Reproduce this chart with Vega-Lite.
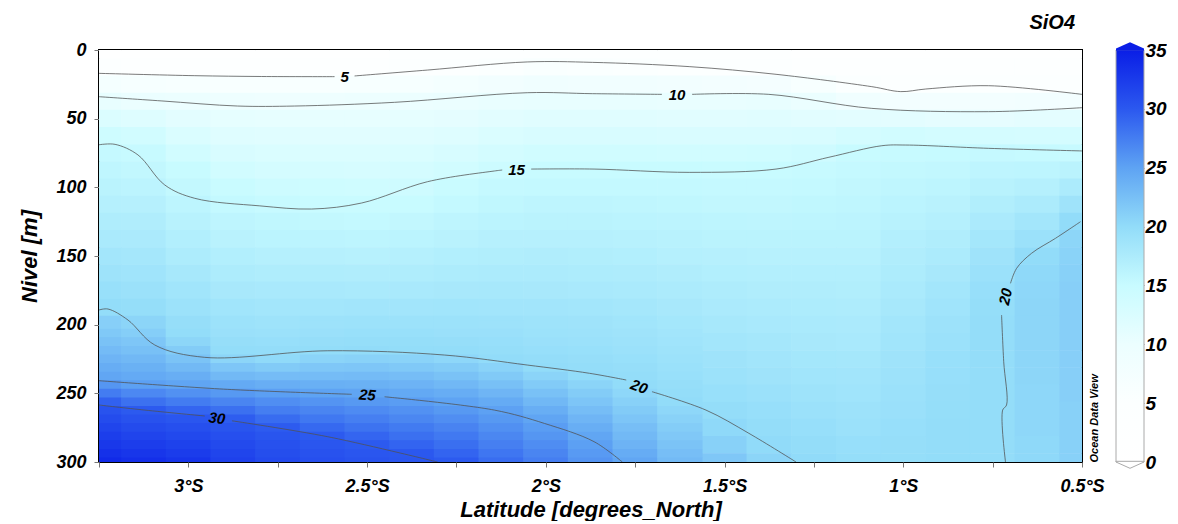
{
"$schema": "https://vega.github.io/schema/vega-lite/v6.json",
"padding": {"left": 17, "top": 12, "right": 0, "bottom": 0},
"bounds": "flush",
"spacing": 34,
"config": {
  "font": "Liberation Sans",
  "view": {"stroke": null},
  "axis": {"labelFont": "Liberation Sans", "labelFontWeight": "bold", "labelFontStyle": "italic", "labelFontSize": 18, "labelColor": "#000", "titleFont": "Liberation Sans", "titleFontWeight": "bold", "titleFontStyle": "italic", "titleFontSize": 22, "titleColor": "#000", "domain": false, "grid": false, "tickColor": "#777", "labelFlush": false, "labelOverlap": false}
},
"datasets": {
"grid": [
{"lat":-3.25,"depth":0,"v":2.0},{"lat":-3.25,"depth":12.5,"v":4.2},{"lat":-3.25,"depth":25,"v":7.4},{"lat":-3.25,"depth":37.5,"v":10.5},{"lat":-3.25,"depth":50,"v":12.3},{"lat":-3.25,"depth":62.5,"v":14.1},{"lat":-3.25,"depth":75,"v":15.3},{"lat":-3.25,"depth":87.5,"v":15.8},{"lat":-3.25,"depth":100,"v":16.3},{"lat":-3.25,"depth":112.5,"v":16.8},{"lat":-3.25,"depth":125,"v":17.3},{"lat":-3.25,"depth":137.5,"v":17.8},{"lat":-3.25,"depth":150,"v":18.4},{"lat":-3.25,"depth":162.5,"v":18.9},{"lat":-3.25,"depth":175,"v":19.4},{"lat":-3.25,"depth":187.5,"v":19.9},{"lat":-3.25,"depth":200,"v":21.1},{"lat":-3.25,"depth":212.5,"v":22.3},{"lat":-3.25,"depth":225,"v":23.5},{"lat":-3.25,"depth":237.5,"v":24.7},{"lat":-3.25,"depth":250,"v":27.6},{"lat":-3.25,"depth":262.5,"v":30.4},{"lat":-3.25,"depth":275,"v":31.6},{"lat":-3.25,"depth":287.5,"v":32.8},{"lat":-3.25,"depth":300,"v":34.0},
{"lat":-3.125,"depth":0,"v":2.0},{"lat":-3.125,"depth":12.5,"v":4.1},{"lat":-3.125,"depth":25,"v":6.9},{"lat":-3.125,"depth":37.5,"v":10.2},{"lat":-3.125,"depth":50,"v":11.9},{"lat":-3.125,"depth":62.5,"v":13.7},{"lat":-3.125,"depth":75,"v":15.1},{"lat":-3.125,"depth":87.5,"v":15.6},{"lat":-3.125,"depth":100,"v":16.1},{"lat":-3.125,"depth":112.5,"v":16.7},{"lat":-3.125,"depth":125,"v":17.2},{"lat":-3.125,"depth":137.5,"v":17.7},{"lat":-3.125,"depth":150,"v":18.2},{"lat":-3.125,"depth":162.5,"v":18.7},{"lat":-3.125,"depth":175,"v":19.2},{"lat":-3.125,"depth":187.5,"v":19.7},{"lat":-3.125,"depth":200,"v":20.6},{"lat":-3.125,"depth":212.5,"v":21.9},{"lat":-3.125,"depth":225,"v":23.2},{"lat":-3.125,"depth":237.5,"v":24.4},{"lat":-3.125,"depth":250,"v":26.8},{"lat":-3.125,"depth":262.5,"v":29.9},{"lat":-3.125,"depth":275,"v":31.1},{"lat":-3.125,"depth":287.5,"v":32.3},{"lat":-3.125,"depth":300,"v":33.5},
{"lat":-3.0,"depth":0,"v":2.0},{"lat":-3.0,"depth":12.5,"v":4.0},{"lat":-3.0,"depth":25,"v":6.7},{"lat":-3.0,"depth":37.5,"v":9.9},{"lat":-3.0,"depth":50,"v":11.2},{"lat":-3.0,"depth":62.5,"v":12.5},{"lat":-3.0,"depth":75,"v":13.7},{"lat":-3.0,"depth":87.5,"v":15.0},{"lat":-3.0,"depth":100,"v":15.5},{"lat":-3.0,"depth":112.5,"v":16.0},{"lat":-3.0,"depth":125,"v":16.5},{"lat":-3.0,"depth":137.5,"v":17.0},{"lat":-3.0,"depth":150,"v":17.5},{"lat":-3.0,"depth":162.5,"v":18.1},{"lat":-3.0,"depth":175,"v":18.6},{"lat":-3.0,"depth":187.5,"v":19.1},{"lat":-3.0,"depth":200,"v":19.6},{"lat":-3.0,"depth":212.5,"v":20.5},{"lat":-3.0,"depth":225,"v":22.2},{"lat":-3.0,"depth":237.5,"v":24.0},{"lat":-3.0,"depth":250,"v":26.2},{"lat":-3.0,"depth":262.5,"v":29.1},{"lat":-3.0,"depth":275,"v":30.8},{"lat":-3.0,"depth":287.5,"v":31.9},{"lat":-3.0,"depth":300,"v":33.0},
{"lat":-2.875,"depth":0,"v":2.2},{"lat":-2.875,"depth":12.5,"v":4.0},{"lat":-2.875,"depth":25,"v":6.4},{"lat":-2.875,"depth":37.5,"v":9.3},{"lat":-2.875,"depth":50,"v":10.8},{"lat":-2.875,"depth":62.5,"v":11.8},{"lat":-2.875,"depth":75,"v":12.8},{"lat":-2.875,"depth":87.5,"v":13.8},{"lat":-2.875,"depth":100,"v":14.8},{"lat":-2.875,"depth":112.5,"v":15.4},{"lat":-2.875,"depth":125,"v":15.9},{"lat":-2.875,"depth":137.5,"v":16.4},{"lat":-2.875,"depth":150,"v":17.0},{"lat":-2.875,"depth":162.5,"v":17.5},{"lat":-2.875,"depth":175,"v":18.0},{"lat":-2.875,"depth":187.5,"v":18.6},{"lat":-2.875,"depth":200,"v":19.1},{"lat":-2.875,"depth":212.5,"v":19.6},{"lat":-2.875,"depth":225,"v":20.6},{"lat":-2.875,"depth":237.5,"v":23.1},{"lat":-2.875,"depth":250,"v":25.7},{"lat":-2.875,"depth":262.5,"v":28.4},{"lat":-2.875,"depth":275,"v":30.3},{"lat":-2.875,"depth":287.5,"v":31.2},{"lat":-2.875,"depth":300,"v":32.0},
{"lat":-2.75,"depth":0,"v":2.3},{"lat":-2.75,"depth":12.5,"v":4.0},{"lat":-2.75,"depth":25,"v":6.3},{"lat":-2.75,"depth":37.5,"v":9.2},{"lat":-2.75,"depth":50,"v":10.7},{"lat":-2.75,"depth":62.5,"v":11.6},{"lat":-2.75,"depth":75,"v":12.5},{"lat":-2.75,"depth":87.5,"v":13.4},{"lat":-2.75,"depth":100,"v":14.3},{"lat":-2.75,"depth":112.5,"v":15.1},{"lat":-2.75,"depth":125,"v":15.7},{"lat":-2.75,"depth":137.5,"v":16.2},{"lat":-2.75,"depth":150,"v":16.8},{"lat":-2.75,"depth":162.5,"v":17.3},{"lat":-2.75,"depth":175,"v":17.9},{"lat":-2.75,"depth":187.5,"v":18.4},{"lat":-2.75,"depth":200,"v":18.9},{"lat":-2.75,"depth":212.5,"v":19.5},{"lat":-2.75,"depth":225,"v":20.2},{"lat":-2.75,"depth":237.5,"v":22.8},{"lat":-2.75,"depth":250,"v":25.3},{"lat":-2.75,"depth":262.5,"v":27.5},{"lat":-2.75,"depth":275,"v":29.8},{"lat":-2.75,"depth":287.5,"v":30.6},{"lat":-2.75,"depth":300,"v":31.2},
{"lat":-2.625,"depth":0,"v":2.4},{"lat":-2.625,"depth":12.5,"v":4.1},{"lat":-2.625,"depth":25,"v":6.4},{"lat":-2.625,"depth":37.5,"v":9.4},{"lat":-2.625,"depth":50,"v":10.7},{"lat":-2.625,"depth":62.5,"v":11.5},{"lat":-2.625,"depth":75,"v":12.4},{"lat":-2.625,"depth":87.5,"v":13.2},{"lat":-2.625,"depth":100,"v":14.1},{"lat":-2.625,"depth":112.5,"v":14.9},{"lat":-2.625,"depth":125,"v":15.5},{"lat":-2.625,"depth":137.5,"v":16.1},{"lat":-2.625,"depth":150,"v":16.7},{"lat":-2.625,"depth":162.5,"v":17.3},{"lat":-2.625,"depth":175,"v":17.9},{"lat":-2.625,"depth":187.5,"v":18.4},{"lat":-2.625,"depth":200,"v":19.0},{"lat":-2.625,"depth":212.5,"v":19.6},{"lat":-2.625,"depth":225,"v":20.7},{"lat":-2.625,"depth":237.5,"v":22.8},{"lat":-2.625,"depth":250,"v":25.0},{"lat":-2.625,"depth":262.5,"v":27.0},{"lat":-2.625,"depth":275,"v":28.9},{"lat":-2.625,"depth":287.5,"v":30.2},{"lat":-2.625,"depth":300,"v":30.8},
{"lat":-2.5,"depth":0,"v":2.5},{"lat":-2.5,"depth":12.5,"v":4.1},{"lat":-2.5,"depth":25,"v":6.5},{"lat":-2.5,"depth":37.5,"v":9.6},{"lat":-2.5,"depth":50,"v":10.7},{"lat":-2.5,"depth":62.5,"v":11.5},{"lat":-2.5,"depth":75,"v":12.3},{"lat":-2.5,"depth":87.5,"v":13.1},{"lat":-2.5,"depth":100,"v":14.0},{"lat":-2.5,"depth":112.5,"v":14.8},{"lat":-2.5,"depth":125,"v":15.4},{"lat":-2.5,"depth":137.5,"v":16.0},{"lat":-2.5,"depth":150,"v":16.6},{"lat":-2.5,"depth":162.5,"v":17.2},{"lat":-2.5,"depth":175,"v":17.8},{"lat":-2.5,"depth":187.5,"v":18.5},{"lat":-2.5,"depth":200,"v":19.1},{"lat":-2.5,"depth":212.5,"v":19.7},{"lat":-2.5,"depth":225,"v":20.9},{"lat":-2.5,"depth":237.5,"v":22.9},{"lat":-2.5,"depth":250,"v":24.8},{"lat":-2.5,"depth":262.5,"v":26.6},{"lat":-2.5,"depth":275,"v":28.2},{"lat":-2.5,"depth":287.5,"v":29.9},{"lat":-2.5,"depth":300,"v":30.4},
{"lat":-2.375,"depth":0,"v":2.7},{"lat":-2.375,"depth":12.5,"v":4.4},{"lat":-2.375,"depth":25,"v":6.9},{"lat":-2.375,"depth":37.5,"v":9.9},{"lat":-2.375,"depth":50,"v":10.8},{"lat":-2.375,"depth":62.5,"v":11.7},{"lat":-2.375,"depth":75,"v":12.5},{"lat":-2.375,"depth":87.5,"v":13.3},{"lat":-2.375,"depth":100,"v":14.2},{"lat":-2.375,"depth":112.5,"v":15.0},{"lat":-2.375,"depth":125,"v":15.6},{"lat":-2.375,"depth":137.5,"v":16.2},{"lat":-2.375,"depth":150,"v":16.8},{"lat":-2.375,"depth":162.5,"v":17.3},{"lat":-2.375,"depth":175,"v":17.9},{"lat":-2.375,"depth":187.5,"v":18.5},{"lat":-2.375,"depth":200,"v":19.1},{"lat":-2.375,"depth":212.5,"v":19.7},{"lat":-2.375,"depth":225,"v":20.8},{"lat":-2.375,"depth":237.5,"v":22.7},{"lat":-2.375,"depth":250,"v":24.5},{"lat":-2.375,"depth":262.5,"v":26.2},{"lat":-2.375,"depth":275,"v":27.7},{"lat":-2.375,"depth":287.5,"v":29.2},{"lat":-2.375,"depth":300,"v":30.2},
{"lat":-2.25,"depth":0,"v":3.0},{"lat":-2.25,"depth":12.5,"v":4.8},{"lat":-2.25,"depth":25,"v":7.5},{"lat":-2.25,"depth":37.5,"v":10.1},{"lat":-2.25,"depth":50,"v":11.0},{"lat":-2.25,"depth":62.5,"v":12.0},{"lat":-2.25,"depth":75,"v":12.9},{"lat":-2.25,"depth":87.5,"v":13.8},{"lat":-2.25,"depth":100,"v":14.8},{"lat":-2.25,"depth":112.5,"v":15.4},{"lat":-2.25,"depth":125,"v":15.9},{"lat":-2.25,"depth":137.5,"v":16.4},{"lat":-2.25,"depth":150,"v":17.0},{"lat":-2.25,"depth":162.5,"v":17.5},{"lat":-2.25,"depth":175,"v":18.0},{"lat":-2.25,"depth":187.5,"v":18.6},{"lat":-2.25,"depth":200,"v":19.1},{"lat":-2.25,"depth":212.5,"v":19.6},{"lat":-2.25,"depth":225,"v":20.4},{"lat":-2.25,"depth":237.5,"v":22.3},{"lat":-2.25,"depth":250,"v":24.1},{"lat":-2.25,"depth":262.5,"v":25.7},{"lat":-2.25,"depth":275,"v":27.1},{"lat":-2.25,"depth":287.5,"v":28.5},{"lat":-2.25,"depth":300,"v":29.9},
{"lat":-2.125,"depth":0,"v":3.3},{"lat":-2.125,"depth":12.5,"v":5.3},{"lat":-2.125,"depth":25,"v":8.2},{"lat":-2.125,"depth":37.5,"v":10.4},{"lat":-2.125,"depth":50,"v":11.4},{"lat":-2.125,"depth":62.5,"v":12.5},{"lat":-2.125,"depth":75,"v":13.5},{"lat":-2.125,"depth":87.5,"v":14.5},{"lat":-2.125,"depth":100,"v":15.3},{"lat":-2.125,"depth":112.5,"v":15.7},{"lat":-2.125,"depth":125,"v":16.2},{"lat":-2.125,"depth":137.5,"v":16.7},{"lat":-2.125,"depth":150,"v":17.1},{"lat":-2.125,"depth":162.5,"v":17.6},{"lat":-2.125,"depth":175,"v":18.1},{"lat":-2.125,"depth":187.5,"v":18.5},{"lat":-2.125,"depth":200,"v":19.0},{"lat":-2.125,"depth":212.5,"v":19.5},{"lat":-2.125,"depth":225,"v":20.0},{"lat":-2.125,"depth":237.5,"v":21.6},{"lat":-2.125,"depth":250,"v":23.4},{"lat":-2.125,"depth":262.5,"v":25.1},{"lat":-2.125,"depth":275,"v":26.3},{"lat":-2.125,"depth":287.5,"v":27.4},{"lat":-2.125,"depth":300,"v":28.6},
{"lat":-2.0,"depth":0,"v":3.5},{"lat":-2.0,"depth":12.5,"v":5.8},{"lat":-2.0,"depth":25,"v":8.6},{"lat":-2.0,"depth":37.5,"v":10.6},{"lat":-2.0,"depth":50,"v":11.7},{"lat":-2.0,"depth":62.5,"v":12.8},{"lat":-2.0,"depth":75,"v":13.9},{"lat":-2.0,"depth":87.5,"v":15.0},{"lat":-2.0,"depth":100,"v":15.4},{"lat":-2.0,"depth":112.5,"v":15.9},{"lat":-2.0,"depth":125,"v":16.3},{"lat":-2.0,"depth":137.5,"v":16.7},{"lat":-2.0,"depth":150,"v":17.2},{"lat":-2.0,"depth":162.5,"v":17.6},{"lat":-2.0,"depth":175,"v":18.0},{"lat":-2.0,"depth":187.5,"v":18.5},{"lat":-2.0,"depth":200,"v":18.9},{"lat":-2.0,"depth":212.5,"v":19.3},{"lat":-2.0,"depth":225,"v":19.8},{"lat":-2.0,"depth":237.5,"v":20.7},{"lat":-2.0,"depth":250,"v":22.4},{"lat":-2.0,"depth":262.5,"v":24.0},{"lat":-2.0,"depth":275,"v":25.4},{"lat":-2.0,"depth":287.5,"v":26.5},{"lat":-2.0,"depth":300,"v":27.5},
{"lat":-1.875,"depth":0,"v":3.4},{"lat":-1.875,"depth":12.5,"v":5.7},{"lat":-1.875,"depth":25,"v":8.4},{"lat":-1.875,"depth":37.5,"v":10.5},{"lat":-1.875,"depth":50,"v":11.6},{"lat":-1.875,"depth":62.5,"v":12.8},{"lat":-1.875,"depth":75,"v":13.9},{"lat":-1.875,"depth":87.5,"v":15.0},{"lat":-1.875,"depth":100,"v":15.4},{"lat":-1.875,"depth":112.5,"v":15.9},{"lat":-1.875,"depth":125,"v":16.3},{"lat":-1.875,"depth":137.5,"v":16.7},{"lat":-1.875,"depth":150,"v":17.1},{"lat":-1.875,"depth":162.5,"v":17.5},{"lat":-1.875,"depth":175,"v":17.9},{"lat":-1.875,"depth":187.5,"v":18.4},{"lat":-1.875,"depth":200,"v":18.8},{"lat":-1.875,"depth":212.5,"v":19.2},{"lat":-1.875,"depth":225,"v":19.6},{"lat":-1.875,"depth":237.5,"v":20.0},{"lat":-1.875,"depth":250,"v":21.4},{"lat":-1.875,"depth":262.5,"v":22.7},{"lat":-1.875,"depth":275,"v":24.0},{"lat":-1.875,"depth":287.5,"v":25.2},{"lat":-1.875,"depth":300,"v":26.0},
{"lat":-1.75,"depth":0,"v":3.2},{"lat":-1.75,"depth":12.5,"v":5.3},{"lat":-1.75,"depth":25,"v":8.3},{"lat":-1.75,"depth":37.5,"v":10.5},{"lat":-1.75,"depth":50,"v":11.6},{"lat":-1.75,"depth":62.5,"v":12.8},{"lat":-1.75,"depth":75,"v":13.9},{"lat":-1.75,"depth":87.5,"v":15.0},{"lat":-1.75,"depth":100,"v":15.4},{"lat":-1.75,"depth":112.5,"v":15.8},{"lat":-1.75,"depth":125,"v":16.2},{"lat":-1.75,"depth":137.5,"v":16.6},{"lat":-1.75,"depth":150,"v":17.0},{"lat":-1.75,"depth":162.5,"v":17.4},{"lat":-1.75,"depth":175,"v":17.8},{"lat":-1.75,"depth":187.5,"v":18.2},{"lat":-1.75,"depth":200,"v":18.6},{"lat":-1.75,"depth":212.5,"v":19.0},{"lat":-1.75,"depth":225,"v":19.4},{"lat":-1.75,"depth":237.5,"v":19.8},{"lat":-1.75,"depth":250,"v":20.4},{"lat":-1.75,"depth":262.5,"v":21.5},{"lat":-1.75,"depth":275,"v":22.6},{"lat":-1.75,"depth":287.5,"v":23.6},{"lat":-1.75,"depth":300,"v":24.7},
{"lat":-1.625,"depth":0,"v":3.0},{"lat":-1.625,"depth":12.5,"v":4.9},{"lat":-1.625,"depth":25,"v":8.0},{"lat":-1.625,"depth":37.5,"v":10.4},{"lat":-1.625,"depth":50,"v":11.5},{"lat":-1.625,"depth":62.5,"v":12.7},{"lat":-1.625,"depth":75,"v":13.8},{"lat":-1.625,"depth":87.5,"v":15.0},{"lat":-1.625,"depth":100,"v":15.4},{"lat":-1.625,"depth":112.5,"v":15.7},{"lat":-1.625,"depth":125,"v":16.1},{"lat":-1.625,"depth":137.5,"v":16.5},{"lat":-1.625,"depth":150,"v":16.8},{"lat":-1.625,"depth":162.5,"v":17.2},{"lat":-1.625,"depth":175,"v":17.6},{"lat":-1.625,"depth":187.5,"v":18.0},{"lat":-1.625,"depth":200,"v":18.3},{"lat":-1.625,"depth":212.5,"v":18.7},{"lat":-1.625,"depth":225,"v":19.1},{"lat":-1.625,"depth":237.5,"v":19.4},{"lat":-1.625,"depth":250,"v":19.8},{"lat":-1.625,"depth":262.5,"v":20.4},{"lat":-1.625,"depth":275,"v":21.3},{"lat":-1.625,"depth":287.5,"v":22.2},{"lat":-1.625,"depth":300,"v":23.0},
{"lat":-1.5,"depth":0,"v":2.8},{"lat":-1.5,"depth":12.5,"v":4.6},{"lat":-1.5,"depth":25,"v":7.9},{"lat":-1.5,"depth":37.5,"v":10.4},{"lat":-1.5,"depth":50,"v":11.5},{"lat":-1.5,"depth":62.5,"v":12.7},{"lat":-1.5,"depth":75,"v":13.8},{"lat":-1.5,"depth":87.5,"v":14.9},{"lat":-1.5,"depth":100,"v":15.3},{"lat":-1.5,"depth":112.5,"v":15.6},{"lat":-1.5,"depth":125,"v":16.0},{"lat":-1.5,"depth":137.5,"v":16.3},{"lat":-1.5,"depth":150,"v":16.7},{"lat":-1.5,"depth":162.5,"v":17.0},{"lat":-1.5,"depth":175,"v":17.4},{"lat":-1.5,"depth":187.5,"v":17.7},{"lat":-1.5,"depth":200,"v":18.1},{"lat":-1.5,"depth":212.5,"v":18.4},{"lat":-1.5,"depth":225,"v":18.8},{"lat":-1.5,"depth":237.5,"v":19.1},{"lat":-1.5,"depth":250,"v":19.4},{"lat":-1.5,"depth":262.5,"v":19.8},{"lat":-1.5,"depth":275,"v":20.3},{"lat":-1.5,"depth":287.5,"v":21.0},{"lat":-1.5,"depth":300,"v":21.8},
{"lat":-1.375,"depth":0,"v":2.6},{"lat":-1.375,"depth":12.5,"v":4.4},{"lat":-1.375,"depth":25,"v":7.6},{"lat":-1.375,"depth":37.5,"v":10.5},{"lat":-1.375,"depth":50,"v":11.6},{"lat":-1.375,"depth":62.5,"v":12.7},{"lat":-1.375,"depth":75,"v":13.9},{"lat":-1.375,"depth":87.5,"v":15.0},{"lat":-1.375,"depth":100,"v":15.3},{"lat":-1.375,"depth":112.5,"v":15.6},{"lat":-1.375,"depth":125,"v":15.9},{"lat":-1.375,"depth":137.5,"v":16.3},{"lat":-1.375,"depth":150,"v":16.6},{"lat":-1.375,"depth":162.5,"v":16.9},{"lat":-1.375,"depth":175,"v":17.2},{"lat":-1.375,"depth":187.5,"v":17.6},{"lat":-1.375,"depth":200,"v":17.9},{"lat":-1.375,"depth":212.5,"v":18.2},{"lat":-1.375,"depth":225,"v":18.5},{"lat":-1.375,"depth":237.5,"v":18.8},{"lat":-1.375,"depth":250,"v":19.2},{"lat":-1.375,"depth":262.5,"v":19.5},{"lat":-1.375,"depth":275,"v":19.8},{"lat":-1.375,"depth":287.5,"v":20.1},{"lat":-1.375,"depth":300,"v":20.6},
{"lat":-1.25,"depth":0,"v":2.4},{"lat":-1.25,"depth":12.5,"v":4.0},{"lat":-1.25,"depth":25,"v":6.5},{"lat":-1.25,"depth":37.5,"v":10.1},{"lat":-1.25,"depth":50,"v":11.4},{"lat":-1.25,"depth":62.5,"v":12.8},{"lat":-1.25,"depth":75,"v":14.2},{"lat":-1.25,"depth":87.5,"v":15.1},{"lat":-1.25,"depth":100,"v":15.4},{"lat":-1.25,"depth":112.5,"v":15.7},{"lat":-1.25,"depth":125,"v":16.0},{"lat":-1.25,"depth":137.5,"v":16.3},{"lat":-1.25,"depth":150,"v":16.6},{"lat":-1.25,"depth":162.5,"v":16.9},{"lat":-1.25,"depth":175,"v":17.2},{"lat":-1.25,"depth":187.5,"v":17.5},{"lat":-1.25,"depth":200,"v":17.8},{"lat":-1.25,"depth":212.5,"v":18.0},{"lat":-1.25,"depth":225,"v":18.3},{"lat":-1.25,"depth":237.5,"v":18.6},{"lat":-1.25,"depth":250,"v":18.9},{"lat":-1.25,"depth":262.5,"v":19.2},{"lat":-1.25,"depth":275,"v":19.5},{"lat":-1.25,"depth":287.5,"v":19.8},{"lat":-1.25,"depth":300,"v":20.1},
{"lat":-1.125,"depth":0,"v":2.2},{"lat":-1.125,"depth":12.5,"v":3.7},{"lat":-1.125,"depth":25,"v":5.3},{"lat":-1.125,"depth":37.5,"v":8.8},{"lat":-1.125,"depth":50,"v":11.3},{"lat":-1.125,"depth":62.5,"v":13.3},{"lat":-1.125,"depth":75,"v":15.0},{"lat":-1.125,"depth":87.5,"v":15.3},{"lat":-1.125,"depth":100,"v":15.6},{"lat":-1.125,"depth":112.5,"v":15.8},{"lat":-1.125,"depth":125,"v":16.1},{"lat":-1.125,"depth":137.5,"v":16.3},{"lat":-1.125,"depth":150,"v":16.6},{"lat":-1.125,"depth":162.5,"v":16.9},{"lat":-1.125,"depth":175,"v":17.1},{"lat":-1.125,"depth":187.5,"v":17.4},{"lat":-1.125,"depth":200,"v":17.7},{"lat":-1.125,"depth":212.5,"v":17.9},{"lat":-1.125,"depth":225,"v":18.2},{"lat":-1.125,"depth":237.5,"v":18.5},{"lat":-1.125,"depth":250,"v":18.7},{"lat":-1.125,"depth":262.5,"v":19.0},{"lat":-1.125,"depth":275,"v":19.2},{"lat":-1.125,"depth":287.5,"v":19.5},{"lat":-1.125,"depth":300,"v":19.7},
{"lat":-1.0,"depth":0,"v":1.8},{"lat":-1.0,"depth":12.5,"v":3.1},{"lat":-1.0,"depth":25,"v":4.5},{"lat":-1.0,"depth":37.5,"v":7.7},{"lat":-1.0,"depth":50,"v":11.2},{"lat":-1.0,"depth":62.5,"v":13.7},{"lat":-1.0,"depth":75,"v":15.1},{"lat":-1.0,"depth":87.5,"v":15.5},{"lat":-1.0,"depth":100,"v":15.8},{"lat":-1.0,"depth":112.5,"v":16.2},{"lat":-1.0,"depth":125,"v":16.5},{"lat":-1.0,"depth":137.5,"v":16.9},{"lat":-1.0,"depth":150,"v":17.2},{"lat":-1.0,"depth":162.5,"v":17.5},{"lat":-1.0,"depth":175,"v":17.8},{"lat":-1.0,"depth":187.5,"v":18.1},{"lat":-1.0,"depth":200,"v":18.4},{"lat":-1.0,"depth":212.5,"v":18.6},{"lat":-1.0,"depth":225,"v":18.8},{"lat":-1.0,"depth":237.5,"v":19.0},{"lat":-1.0,"depth":250,"v":19.2},{"lat":-1.0,"depth":262.5,"v":19.3},{"lat":-1.0,"depth":275,"v":19.5},{"lat":-1.0,"depth":287.5,"v":19.6},{"lat":-1.0,"depth":300,"v":19.7},
{"lat":-0.875,"depth":0,"v":1.6},{"lat":-0.875,"depth":12.5,"v":3.1},{"lat":-0.875,"depth":25,"v":4.6},{"lat":-0.875,"depth":37.5,"v":7.7},{"lat":-0.875,"depth":50,"v":11.0},{"lat":-0.875,"depth":62.5,"v":13.5},{"lat":-0.875,"depth":75,"v":15.2},{"lat":-0.875,"depth":87.5,"v":15.6},{"lat":-0.875,"depth":100,"v":16.0},{"lat":-0.875,"depth":112.5,"v":16.4},{"lat":-0.875,"depth":125,"v":16.8},{"lat":-0.875,"depth":137.5,"v":17.2},{"lat":-0.875,"depth":150,"v":17.6},{"lat":-0.875,"depth":162.5,"v":18.0},{"lat":-0.875,"depth":175,"v":18.4},{"lat":-0.875,"depth":187.5,"v":18.7},{"lat":-0.875,"depth":200,"v":19.0},{"lat":-0.875,"depth":212.5,"v":19.2},{"lat":-0.875,"depth":225,"v":19.4},{"lat":-0.875,"depth":237.5,"v":19.5},{"lat":-0.875,"depth":250,"v":19.6},{"lat":-0.875,"depth":262.5,"v":19.7},{"lat":-0.875,"depth":275,"v":19.8},{"lat":-0.875,"depth":287.5,"v":19.8},{"lat":-0.875,"depth":300,"v":19.9},
{"lat":-0.75,"depth":0,"v":1.7},{"lat":-0.75,"depth":12.5,"v":3.2},{"lat":-0.75,"depth":25,"v":4.6},{"lat":-0.75,"depth":37.5,"v":7.9},{"lat":-0.75,"depth":50,"v":10.9},{"lat":-0.75,"depth":62.5,"v":13.3},{"lat":-0.75,"depth":75,"v":15.3},{"lat":-0.75,"depth":87.5,"v":15.9},{"lat":-0.75,"depth":100,"v":16.5},{"lat":-0.75,"depth":112.5,"v":17.1},{"lat":-0.75,"depth":125,"v":17.7},{"lat":-0.75,"depth":137.5,"v":18.3},{"lat":-0.75,"depth":150,"v":18.8},{"lat":-0.75,"depth":162.5,"v":19.2},{"lat":-0.75,"depth":175,"v":19.5},{"lat":-0.75,"depth":187.5,"v":19.7},{"lat":-0.75,"depth":200,"v":19.8},{"lat":-0.75,"depth":212.5,"v":19.8},{"lat":-0.75,"depth":225,"v":19.8},{"lat":-0.75,"depth":237.5,"v":19.8},{"lat":-0.75,"depth":250,"v":19.8},{"lat":-0.75,"depth":262.5,"v":19.8},{"lat":-0.75,"depth":275,"v":19.8},{"lat":-0.75,"depth":287.5,"v":19.8},{"lat":-0.75,"depth":300,"v":19.8},
{"lat":-0.625,"depth":0,"v":1.6},{"lat":-0.625,"depth":12.5,"v":3.1},{"lat":-0.625,"depth":25,"v":4.6},{"lat":-0.625,"depth":37.5,"v":8.0},{"lat":-0.625,"depth":50,"v":11.1},{"lat":-0.625,"depth":62.5,"v":13.2},{"lat":-0.625,"depth":75,"v":15.2},{"lat":-0.625,"depth":87.5,"v":16.0},{"lat":-0.625,"depth":100,"v":16.8},{"lat":-0.625,"depth":112.5,"v":17.6},{"lat":-0.625,"depth":125,"v":18.4},{"lat":-0.625,"depth":137.5,"v":19.2},{"lat":-0.625,"depth":150,"v":20.0},{"lat":-0.625,"depth":162.5,"v":20.3},{"lat":-0.625,"depth":175,"v":20.4},{"lat":-0.625,"depth":187.5,"v":20.5},{"lat":-0.625,"depth":200,"v":20.5},{"lat":-0.625,"depth":212.5,"v":20.5},{"lat":-0.625,"depth":225,"v":20.5},{"lat":-0.625,"depth":237.5,"v":20.5},{"lat":-0.625,"depth":250,"v":20.4},{"lat":-0.625,"depth":262.5,"v":20.4},{"lat":-0.625,"depth":275,"v":20.4},{"lat":-0.625,"depth":287.5,"v":20.3},{"lat":-0.625,"depth":300,"v":20.3},
{"lat":-0.5,"depth":0,"v":1.5},{"lat":-0.5,"depth":12.5,"v":2.9},{"lat":-0.5,"depth":25,"v":4.2},{"lat":-0.5,"depth":37.5,"v":7.8},{"lat":-0.5,"depth":50,"v":11.3},{"lat":-0.5,"depth":62.5,"v":13.3},{"lat":-0.5,"depth":75,"v":15.1},{"lat":-0.5,"depth":87.5,"v":16.3},{"lat":-0.5,"depth":100,"v":17.6},{"lat":-0.5,"depth":112.5,"v":18.8},{"lat":-0.5,"depth":125,"v":20.0},{"lat":-0.5,"depth":137.5,"v":20.5},{"lat":-0.5,"depth":150,"v":20.8},{"lat":-0.5,"depth":162.5,"v":21.0},{"lat":-0.5,"depth":175,"v":21.1},{"lat":-0.5,"depth":187.5,"v":21.1},{"lat":-0.5,"depth":200,"v":21.1},{"lat":-0.5,"depth":212.5,"v":21.1},{"lat":-0.5,"depth":225,"v":21.1},{"lat":-0.5,"depth":237.5,"v":21.1},{"lat":-0.5,"depth":250,"v":21.1},{"lat":-0.5,"depth":262.5,"v":21.0},{"lat":-0.5,"depth":275,"v":21.0},{"lat":-0.5,"depth":287.5,"v":21.0},{"lat":-0.5,"depth":300,"v":21.0}
],
"gridb": [
{"lat":-3.25,"depth":200,"v":21.1},{"lat":-3.25,"depth":206.25,"v":21.7},{"lat":-3.25,"depth":212.5,"v":22.3},{"lat":-3.25,"depth":218.75,"v":22.9},{"lat":-3.25,"depth":225,"v":23.5},{"lat":-3.25,"depth":231.25,"v":24.1},{"lat":-3.25,"depth":237.5,"v":24.7},{"lat":-3.25,"depth":243.75,"v":25.9},{"lat":-3.25,"depth":250,"v":27.6},{"lat":-3.25,"depth":256.25,"v":29.4},{"lat":-3.25,"depth":262.5,"v":30.4},{"lat":-3.25,"depth":268.75,"v":31.0},{"lat":-3.25,"depth":275,"v":31.6},{"lat":-3.25,"depth":281.25,"v":32.2},{"lat":-3.25,"depth":287.5,"v":32.8},{"lat":-3.25,"depth":293.75,"v":33.4},{"lat":-3.25,"depth":300,"v":34.0},
{"lat":-3.125,"depth":200,"v":20.6},{"lat":-3.125,"depth":206.25,"v":21.25},{"lat":-3.125,"depth":212.5,"v":21.9},{"lat":-3.125,"depth":218.75,"v":22.5},{"lat":-3.125,"depth":225,"v":23.2},{"lat":-3.125,"depth":231.25,"v":23.8},{"lat":-3.125,"depth":237.5,"v":24.4},{"lat":-3.125,"depth":243.75,"v":25.2},{"lat":-3.125,"depth":250,"v":26.8},{"lat":-3.125,"depth":256.25,"v":28.3},{"lat":-3.125,"depth":262.5,"v":29.9},{"lat":-3.125,"depth":268.75,"v":30.5},{"lat":-3.125,"depth":275,"v":31.1},{"lat":-3.125,"depth":281.25,"v":31.7},{"lat":-3.125,"depth":287.5,"v":32.3},{"lat":-3.125,"depth":293.75,"v":32.9},{"lat":-3.125,"depth":300,"v":33.5},
{"lat":-3.0,"depth":200,"v":19.6},{"lat":-3.0,"depth":206.25,"v":19.9},{"lat":-3.0,"depth":212.5,"v":20.5},{"lat":-3.0,"depth":218.75,"v":21.4},{"lat":-3.0,"depth":225,"v":22.2},{"lat":-3.0,"depth":231.25,"v":23.1},{"lat":-3.0,"depth":237.5,"v":24.0},{"lat":-3.0,"depth":243.75,"v":24.8},{"lat":-3.0,"depth":250,"v":26.2},{"lat":-3.0,"depth":256.25,"v":27.6},{"lat":-3.0,"depth":262.5,"v":29.1},{"lat":-3.0,"depth":268.75,"v":30.2},{"lat":-3.0,"depth":275,"v":30.8},{"lat":-3.0,"depth":281.25,"v":31.3},{"lat":-3.0,"depth":287.5,"v":31.9},{"lat":-3.0,"depth":293.75,"v":32.4},{"lat":-3.0,"depth":300,"v":33.0},
{"lat":-2.875,"depth":200,"v":19.1},{"lat":-2.875,"depth":206.25,"v":19.3},{"lat":-2.875,"depth":212.5,"v":19.6},{"lat":-2.875,"depth":218.75,"v":19.9},{"lat":-2.875,"depth":225,"v":20.6},{"lat":-2.875,"depth":231.25,"v":21.9},{"lat":-2.875,"depth":237.5,"v":23.1},{"lat":-2.875,"depth":243.75,"v":24.4},{"lat":-2.875,"depth":250,"v":25.7},{"lat":-2.875,"depth":256.25,"v":27.0},{"lat":-2.875,"depth":262.5,"v":28.4},{"lat":-2.875,"depth":268.75,"v":29.7},{"lat":-2.875,"depth":275,"v":30.3},{"lat":-2.875,"depth":281.25,"v":30.75},{"lat":-2.875,"depth":287.5,"v":31.2},{"lat":-2.875,"depth":293.75,"v":31.6},{"lat":-2.875,"depth":300,"v":32.0},
{"lat":-2.75,"depth":200,"v":18.9},{"lat":-2.75,"depth":206.25,"v":19.2},{"lat":-2.75,"depth":212.5,"v":19.5},{"lat":-2.75,"depth":218.75,"v":19.8},{"lat":-2.75,"depth":225,"v":20.2},{"lat":-2.75,"depth":231.25,"v":21.5},{"lat":-2.75,"depth":237.5,"v":22.8},{"lat":-2.75,"depth":243.75,"v":24.0},{"lat":-2.75,"depth":250,"v":25.3},{"lat":-2.75,"depth":256.25,"v":26.4},{"lat":-2.75,"depth":262.5,"v":27.5},{"lat":-2.75,"depth":268.75,"v":28.7},{"lat":-2.75,"depth":275,"v":29.8},{"lat":-2.75,"depth":281.25,"v":30.3},{"lat":-2.75,"depth":287.5,"v":30.6},{"lat":-2.75,"depth":293.75,"v":30.9},{"lat":-2.75,"depth":300,"v":31.2},
{"lat":-2.625,"depth":200,"v":19.0},{"lat":-2.625,"depth":206.25,"v":19.3},{"lat":-2.625,"depth":212.5,"v":19.6},{"lat":-2.625,"depth":218.75,"v":19.9},{"lat":-2.625,"depth":225,"v":20.7},{"lat":-2.625,"depth":231.25,"v":21.8},{"lat":-2.625,"depth":237.5,"v":22.8},{"lat":-2.625,"depth":243.75,"v":23.9},{"lat":-2.625,"depth":250,"v":25.0},{"lat":-2.625,"depth":256.25,"v":26.0},{"lat":-2.625,"depth":262.5,"v":27.0},{"lat":-2.625,"depth":268.75,"v":27.9},{"lat":-2.625,"depth":275,"v":28.9},{"lat":-2.625,"depth":281.25,"v":29.9},{"lat":-2.625,"depth":287.5,"v":30.2},{"lat":-2.625,"depth":293.75,"v":30.5},{"lat":-2.625,"depth":300,"v":30.8},
{"lat":-2.5,"depth":200,"v":19.1},{"lat":-2.5,"depth":206.25,"v":19.4},{"lat":-2.5,"depth":212.5,"v":19.7},{"lat":-2.5,"depth":218.75,"v":20.0},{"lat":-2.5,"depth":225,"v":20.9},{"lat":-2.5,"depth":231.25,"v":21.9},{"lat":-2.5,"depth":237.5,"v":22.9},{"lat":-2.5,"depth":243.75,"v":23.8},{"lat":-2.5,"depth":250,"v":24.8},{"lat":-2.5,"depth":256.25,"v":25.7},{"lat":-2.5,"depth":262.5,"v":26.6},{"lat":-2.5,"depth":268.75,"v":27.4},{"lat":-2.5,"depth":275,"v":28.2},{"lat":-2.5,"depth":281.25,"v":29.1},{"lat":-2.5,"depth":287.5,"v":29.9},{"lat":-2.5,"depth":293.75,"v":30.2},{"lat":-2.5,"depth":300,"v":30.4},
{"lat":-2.375,"depth":200,"v":19.1},{"lat":-2.375,"depth":206.25,"v":19.4},{"lat":-2.375,"depth":212.5,"v":19.7},{"lat":-2.375,"depth":218.75,"v":19.9},{"lat":-2.375,"depth":225,"v":20.8},{"lat":-2.375,"depth":231.25,"v":21.7},{"lat":-2.375,"depth":237.5,"v":22.7},{"lat":-2.375,"depth":243.75,"v":23.6},{"lat":-2.375,"depth":250,"v":24.5},{"lat":-2.375,"depth":256.25,"v":25.4},{"lat":-2.375,"depth":262.5,"v":26.2},{"lat":-2.375,"depth":268.75,"v":26.9},{"lat":-2.375,"depth":275,"v":27.7},{"lat":-2.375,"depth":281.25,"v":28.4},{"lat":-2.375,"depth":287.5,"v":29.2},{"lat":-2.375,"depth":293.75,"v":30.0},{"lat":-2.375,"depth":300,"v":30.2},
{"lat":-2.25,"depth":200,"v":19.1},{"lat":-2.25,"depth":206.25,"v":19.3},{"lat":-2.25,"depth":212.5,"v":19.6},{"lat":-2.25,"depth":218.75,"v":19.9},{"lat":-2.25,"depth":225,"v":20.4},{"lat":-2.25,"depth":231.25,"v":21.4},{"lat":-2.25,"depth":237.5,"v":22.3},{"lat":-2.25,"depth":243.75,"v":23.2},{"lat":-2.25,"depth":250,"v":24.1},{"lat":-2.25,"depth":256.25,"v":25.0},{"lat":-2.25,"depth":262.5,"v":25.7},{"lat":-2.25,"depth":268.75,"v":26.4},{"lat":-2.25,"depth":275,"v":27.1},{"lat":-2.25,"depth":281.25,"v":27.8},{"lat":-2.25,"depth":287.5,"v":28.5},{"lat":-2.25,"depth":293.75,"v":29.2},{"lat":-2.25,"depth":300,"v":29.9},
{"lat":-2.125,"depth":200,"v":19.0},{"lat":-2.125,"depth":206.25,"v":19.3},{"lat":-2.125,"depth":212.5,"v":19.5},{"lat":-2.125,"depth":218.75,"v":19.7},{"lat":-2.125,"depth":225,"v":20.0},{"lat":-2.125,"depth":231.25,"v":20.75},{"lat":-2.125,"depth":237.5,"v":21.6},{"lat":-2.125,"depth":243.75,"v":22.5},{"lat":-2.125,"depth":250,"v":23.4},{"lat":-2.125,"depth":256.25,"v":24.3},{"lat":-2.125,"depth":262.5,"v":25.1},{"lat":-2.125,"depth":268.75,"v":25.7},{"lat":-2.125,"depth":275,"v":26.3},{"lat":-2.125,"depth":281.25,"v":26.9},{"lat":-2.125,"depth":287.5,"v":27.4},{"lat":-2.125,"depth":293.75,"v":28.0},{"lat":-2.125,"depth":300,"v":28.6},
{"lat":-2.0,"depth":200,"v":18.9},{"lat":-2.0,"depth":206.25,"v":19.1},{"lat":-2.0,"depth":212.5,"v":19.3},{"lat":-2.0,"depth":218.75,"v":19.5},{"lat":-2.0,"depth":225,"v":19.8},{"lat":-2.0,"depth":231.25,"v":20.0},{"lat":-2.0,"depth":237.5,"v":20.7},{"lat":-2.0,"depth":243.75,"v":21.5},{"lat":-2.0,"depth":250,"v":22.4},{"lat":-2.0,"depth":256.25,"v":23.2},{"lat":-2.0,"depth":262.5,"v":24.0},{"lat":-2.0,"depth":268.75,"v":24.8},{"lat":-2.0,"depth":275,"v":25.4},{"lat":-2.0,"depth":281.25,"v":25.9},{"lat":-2.0,"depth":287.5,"v":26.5},{"lat":-2.0,"depth":293.75,"v":27.0},{"lat":-2.0,"depth":300,"v":27.5},
{"lat":-1.875,"depth":200,"v":18.8},{"lat":-1.875,"depth":206.25,"v":19.0},{"lat":-1.875,"depth":212.5,"v":19.2},{"lat":-1.875,"depth":218.75,"v":19.4},{"lat":-1.875,"depth":225,"v":19.6},{"lat":-1.875,"depth":231.25,"v":19.8},{"lat":-1.875,"depth":237.5,"v":20.0},{"lat":-1.875,"depth":243.75,"v":20.7},{"lat":-1.875,"depth":250,"v":21.4},{"lat":-1.875,"depth":256.25,"v":22.0},{"lat":-1.875,"depth":262.5,"v":22.7},{"lat":-1.875,"depth":268.75,"v":23.4},{"lat":-1.875,"depth":275,"v":24.0},{"lat":-1.875,"depth":281.25,"v":24.7},{"lat":-1.875,"depth":287.5,"v":25.2},{"lat":-1.875,"depth":293.75,"v":25.6},{"lat":-1.875,"depth":300,"v":26.0},
{"lat":-1.75,"depth":200,"v":18.6},{"lat":-1.75,"depth":206.25,"v":18.8},{"lat":-1.75,"depth":212.5,"v":19.0},{"lat":-1.75,"depth":218.75,"v":19.2},{"lat":-1.75,"depth":225,"v":19.4},{"lat":-1.75,"depth":231.25,"v":19.6},{"lat":-1.75,"depth":237.5,"v":19.8},{"lat":-1.75,"depth":243.75,"v":20.0},{"lat":-1.75,"depth":250,"v":20.4},{"lat":-1.75,"depth":256.25,"v":21.0},{"lat":-1.75,"depth":262.5,"v":21.5},{"lat":-1.75,"depth":268.75,"v":22.0},{"lat":-1.75,"depth":275,"v":22.6},{"lat":-1.75,"depth":281.25,"v":23.1},{"lat":-1.75,"depth":287.5,"v":23.6},{"lat":-1.75,"depth":293.75,"v":24.2},{"lat":-1.75,"depth":300,"v":24.7},
{"lat":-1.625,"depth":200,"v":18.3},{"lat":-1.625,"depth":206.25,"v":18.5},{"lat":-1.625,"depth":212.5,"v":18.7},{"lat":-1.625,"depth":218.75,"v":18.9},{"lat":-1.625,"depth":225,"v":19.1},{"lat":-1.625,"depth":231.25,"v":19.25},{"lat":-1.625,"depth":237.5,"v":19.4},{"lat":-1.625,"depth":243.75,"v":19.6},{"lat":-1.625,"depth":250,"v":19.8},{"lat":-1.625,"depth":256.25,"v":20.0},{"lat":-1.625,"depth":262.5,"v":20.4},{"lat":-1.625,"depth":268.75,"v":20.85},{"lat":-1.625,"depth":275,"v":21.3},{"lat":-1.625,"depth":281.25,"v":21.75},{"lat":-1.625,"depth":287.5,"v":22.2},{"lat":-1.625,"depth":293.75,"v":22.6},{"lat":-1.625,"depth":300,"v":23.0}
],
"contours": [
{"s":"5a","i":0,"lat":-3.25,"depth":17.0},{"s":"5a","i":1,"lat":-2.982,"depth":18.7},{"s":"5a","i":2,"lat":-2.795,"depth":19.3},{"s":"5a","i":3,"lat":-2.591,"depth":19.4},
{"s":"5b","i":0,"lat":-2.535,"depth":18.9},{"s":"5b","i":1,"lat":-2.331,"depth":14.6},{"s":"5b","i":2,"lat":-2.052,"depth":8.7},{"s":"5b","i":3,"lat":-1.87,"depth":9.0},{"s":"5b","i":4,"lat":-1.599,"depth":12.1},{"s":"5b","i":5,"lat":-1.356,"depth":17.7},{"s":"5b","i":6,"lat":-1.088,"depth":26.7},{"s":"5b","i":7,"lat":-1.007,"depth":30.3},{"s":"5b","i":8,"lat":-0.937,"depth":28.4},{"s":"5b","i":9,"lat":-0.761,"depth":26.0},{"s":"5b","i":10,"lat":-0.5,"depth":32.3},
{"s":"10a","i":0,"lat":-3.25,"depth":34.0},{"s":"10a","i":1,"lat":-3.074,"depth":37.1},{"s":"10a","i":2,"lat":-2.862,"depth":40.8},{"s":"10a","i":3,"lat":-2.703,"depth":40.8},{"s":"10a","i":4,"lat":-2.423,"depth":38.1},{"s":"10a","i":5,"lat":-2.052,"depth":31.1},{"s":"10a","i":6,"lat":-1.87,"depth":31.8},{"s":"10a","i":7,"lat":-1.675,"depth":32.3},
{"s":"10b","i":0,"lat":-1.591,"depth":32.3},{"s":"10b","i":1,"lat":-1.376,"depth":32.3},{"s":"10b","i":2,"lat":-1.088,"depth":42.5},{"s":"10b","i":3,"lat":-0.761,"depth":44.9},{"s":"10b","i":4,"lat":-0.5,"depth":42.0},
{"s":"15a","i":0,"lat":-3.25,"depth":69.0},{"s":"15a","i":1,"lat":-3.205,"depth":68.7},{"s":"15a","i":2,"lat":-3.141,"depth":76.4},{"s":"15a","i":3,"lat":-3.066,"depth":98.3},{"s":"15a","i":4,"lat":-2.982,"depth":108.0},{"s":"15a","i":5,"lat":-2.8,"depth":113.5},{"s":"15a","i":6,"lat":-2.655,"depth":115.8},{"s":"15a","i":7,"lat":-2.515,"depth":111.4},{"s":"15a","i":8,"lat":-2.331,"depth":95.9},{"s":"15a","i":9,"lat":-2.144,"depth":88.1},{"s":"15a","i":10,"lat":-2.122,"depth":87.4},
{"s":"15b","i":0,"lat":-2.041,"depth":86.7},{"s":"15b","i":1,"lat":-1.865,"depth":86.7},{"s":"15b","i":2,"lat":-1.599,"depth":89.1},{"s":"15b","i":3,"lat":-1.356,"depth":86.7},{"s":"15b","i":4,"lat":-1.208,"depth":78.1},{"s":"15b","i":5,"lat":-1.06,"depth":69.7},{"s":"15b","i":6,"lat":-0.993,"depth":69.2},{"s":"15b","i":7,"lat":-0.761,"depth":71.6},{"s":"15b","i":8,"lat":-0.5,"depth":73.5},
{"s":"20a","i":0,"lat":-3.25,"depth":189.3},{"s":"20a","i":1,"lat":-3.225,"depth":188.6},{"s":"20a","i":2,"lat":-3.169,"depth":196.6},{"s":"20a","i":3,"lat":-3.094,"depth":214.8},{"s":"20a","i":4,"lat":-2.954,"depth":223.8},{"s":"20a","i":5,"lat":-2.61,"depth":219.0},{"s":"20a","i":6,"lat":-2.284,"depth":222.1},{"s":"20a","i":7,"lat":-2.052,"depth":229.4},{"s":"20a","i":8,"lat":-1.878,"depth":235.4},{"s":"20a","i":9,"lat":-1.775,"depth":240.3},
{"s":"20b","i":0,"lat":-1.703,"depth":248.8},{"s":"20b","i":1,"lat":-1.552,"depth":262.2},{"s":"20b","i":2,"lat":-1.432,"depth":279.1},{"s":"20b","i":3,"lat":-1.3,"depth":300},
{"s":"20c","i":0,"lat":-0.504,"depth":125.0},{"s":"20c","i":1,"lat":-0.574,"depth":137.1},{"s":"20c","i":2,"lat":-0.641,"depth":148.0},{"s":"20c","i":3,"lat":-0.683,"depth":159.0},{"s":"20c","i":4,"lat":-0.7,"depth":169.9},
{"s":"20d","i":0,"lat":-0.725,"depth":193.0},{"s":"20d","i":1,"lat":-0.719,"depth":227.0},{"s":"20d","i":2,"lat":-0.711,"depth":258.5},{"s":"20d","i":3,"lat":-0.722,"depth":262.2},{"s":"20d","i":4,"lat":-0.714,"depth":300},
{"s":"25a","i":0,"lat":-3.25,"depth":240.8},{"s":"25a","i":1,"lat":-2.89,"depth":247.1},{"s":"25a","i":2,"lat":-2.543,"depth":250.7},
{"s":"25b","i":0,"lat":-2.451,"depth":252.5},{"s":"25b","i":1,"lat":-2.144,"depth":262.2},{"s":"25b","i":2,"lat":-2.004,"depth":271.9},{"s":"25b","i":3,"lat":-1.865,"depth":285.2},{"s":"25b","i":4,"lat":-1.786,"depth":300},
{"s":"30a","i":0,"lat":-3.25,"depth":258.5},{"s":"30a","i":1,"lat":-3.122,"depth":262.2},{"s":"30a","i":2,"lat":-2.954,"depth":266.5},
{"s":"30b","i":0,"lat":-2.878,"depth":270.0},{"s":"30b","i":1,"lat":-2.61,"depth":281.6},{"s":"30b","i":2,"lat":-2.303,"depth":300}
],
"labels": [
{"k":"L5","txt":"5","lat":-2.563,"depth":19.3},
{"k":"L10","txt":"10","lat":-1.633,"depth":32.8},
{"k":"L15","txt":"15","lat":-2.082,"depth":87.4},
{"k":"L20m","txt":"20","lat":-1.739,"depth":245.2},
{"k":"L20r","txt":"20","lat":-0.714,"depth":179.6},
{"k":"L25","txt":"25","lat":-2.499,"depth":251.2},
{"k":"L30","txt":"30","lat":-2.92,"depth":268.2}
]
},
"hconcat": [
{
  "width": 983,
  "height": 412,
  "title": {"text": "SiO4", "anchor": "end", "frame": "group", "fontSize": 20, "fontWeight": "bold", "fontStyle": "italic", "font": "Liberation Sans", "color": "#000", "baseline": "alphabetic", "offset": -8, "dx": -7},
  "view": {"stroke": "#000", "strokeWidth": 2},
  "layer": [
    {
      "data": {"name": "grid"},
      "mark": {"type": "rect", "width": 45.3, "height": 17.6, "clip": true},
      "encoding": {
        "x": {"field": "lat", "type": "quantitative", "scale": {"domain": [-3.25, -0.5], "nice": false, "zero": false},
              "axis": {"title": "Latitude [degrees_North]", "values": [-3.25, -3, -2.75, -2.5, -2.25, -2, -1.75, -1.5, -1.25, -1, -0.75, -0.5], "labelExpr": "datum.value*2 == round(datum.value*2) ? abs(datum.value) + '°S' : ''", "tickSize": 5, "labelPadding": 10, "titlePadding": 4}},
        "y": {"field": "depth", "type": "quantitative", "scale": {"domain": [0, 300], "reverse": true, "nice": false, "zero": false},
              "axis": {"title": "Nivel [m]", "values": [0, 25, 50, 75, 100, 125, 150, 175, 200, 225, 250, 275, 300], "labelExpr": "datum.value % 50 == 0 ? datum.label : ''", "tickSize": 5, "labelPadding": 8, "titlePadding": 14}},
        "color": {"field": "v", "type": "quantitative", "legend": null,
                  "scale": {"domain": [0, 5, 10, 15, 20, 25, 30, 35], "range": ["#ffffff", "#fcffff", "#ecfeff", "#c8fbff", "#92dcf9", "#5ea3f3", "#2b58ef", "#0a1ee6"], "interpolate": "rgb"}}
      }
    },
    {
      "data": {"name": "gridb"},
      "mark": {"type": "rect", "width": 45.3, "height": 9.0, "clip": true},
      "encoding": {
        "x": {"field": "lat", "type": "quantitative"},
        "y": {"field": "depth", "type": "quantitative"},
        "color": {"field": "v", "type": "quantitative", "legend": null}
      }
    },
    {
      "data": {"name": "contours"},
      "mark": {"type": "line", "color": "#505050", "strokeWidth": 0.9, "opacity": 0.85, "clip": true, "interpolate": "catmull-rom"},
      "encoding": {
        "x": {"field": "lat", "type": "quantitative"},
        "y": {"field": "depth", "type": "quantitative"},
        "detail": {"field": "s"},
        "order": {"field": "i", "type": "quantitative"}
      }
    },
    {
      "data": {"name": "labels"},
      "transform": [{"filter": {"field": "k", "oneOf": ["L5", "L10", "L15"]}}],
      "mark": {"type": "text", "fontSize": 15, "fontWeight": "bold", "fontStyle": "italic", "font": "Liberation Sans", "color": "#000"},
      "encoding": {"x": {"field": "lat", "type": "quantitative"}, "y": {"field": "depth", "type": "quantitative"}, "text": {"field": "txt"}}
    },
    {
      "data": {"name": "labels"},
      "transform": [{"filter": {"field": "k", "equal": "L20m"}}],
      "mark": {"type": "text", "fontSize": 15, "fontWeight": "bold", "fontStyle": "italic", "font": "Liberation Sans", "color": "#000", "angle": 20},
      "encoding": {"x": {"field": "lat", "type": "quantitative"}, "y": {"field": "depth", "type": "quantitative"}, "text": {"field": "txt"}}
    },
    {
      "data": {"name": "labels"},
      "transform": [{"filter": {"field": "k", "equal": "L20r"}}],
      "mark": {"type": "text", "fontSize": 15, "fontWeight": "bold", "fontStyle": "italic", "font": "Liberation Sans", "color": "#000", "angle": -78},
      "encoding": {"x": {"field": "lat", "type": "quantitative"}, "y": {"field": "depth", "type": "quantitative"}, "text": {"field": "txt"}}
    },
    {
      "data": {"name": "labels"},
      "transform": [{"filter": {"field": "k", "equal": "L25"}}],
      "mark": {"type": "text", "fontSize": 15, "fontWeight": "bold", "fontStyle": "italic", "font": "Liberation Sans", "color": "#000", "angle": 4},
      "encoding": {"x": {"field": "lat", "type": "quantitative"}, "y": {"field": "depth", "type": "quantitative"}, "text": {"field": "txt"}}
    },
    {
      "data": {"name": "labels"},
      "transform": [{"filter": {"field": "k", "equal": "L30"}}],
      "mark": {"type": "text", "fontSize": 15, "fontWeight": "bold", "fontStyle": "italic", "font": "Liberation Sans", "color": "#000", "angle": 7},
      "encoding": {"x": {"field": "lat", "type": "quantitative"}, "y": {"field": "depth", "type": "quantitative"}, "text": {"field": "txt"}}
    }
  ]
},
{
  "width": 28,
  "height": 412,
  "layer": [
    {
      "data": {"values": [{"lo": 0, "hi": 35}]},
      "mark": {"type": "rect", "stroke": "#aaaaaa", "strokeWidth": 1,
               "fill": {"gradient": "linear", "x1": 0, "y1": 1, "x2": 0, "y2": 0,
                        "stops": [{"offset": 0, "color": "#ffffff"}, {"offset": 0.142857, "color": "#fcffff"}, {"offset": 0.285714, "color": "#ecfeff"}, {"offset": 0.428571, "color": "#c8fbff"}, {"offset": 0.571429, "color": "#92dcf9"}, {"offset": 0.714286, "color": "#5ea3f3"}, {"offset": 0.857143, "color": "#2b58ef"}, {"offset": 1, "color": "#0a1ee6"}]}},
      "encoding": {
        "x": {"datum": 0, "type": "quantitative", "scale": {"domain": [0, 1], "nice": false, "zero": false}, "axis": null},
        "x2": {"datum": 1},
        "y": {"field": "lo", "type": "quantitative", "scale": {"domain": [0, 35], "nice": false, "zero": false},
              "axis": {"orient": "right", "title": null, "values": [0, 5, 10, 15, 20, 25, 30, 35], "tickSize": -5, "tickColor": "#888888",
                       "tickOpacity": {"condition": {"test": "datum.value == 0 || datum.value == 35", "value": 0}, "value": 1},
                       "labelPadding": 6, "labelFontSize": 19, "labelBaseline": "middle"}},
        "y2": {"field": "hi"}
      }
    },
    {
      "data": {"values": [{"val": 35}]},
      "mark": {"type": "point", "shape": "M-1,0.05L-1,-0.1L0,-0.55L1,-0.1L1,0.05Z", "size": 784, "filled": true, "fill": "#0a1ee6", "strokeWidth": 0, "opacity": 1},
      "encoding": {
        "x": {"datum": 0.5, "type": "quantitative"},
        "y": {"field": "val", "type": "quantitative",
              "axis": {"orient": "left", "title": "Ocean Data View", "titleFontSize": 11, "titleAnchor": "start", "titlePadding": 16, "labels": false, "values": [5, 10, 15, 20, 25, 30], "tickSize": -5, "tickColor": "#888888"}}
      }
    },
    {
      "data": {"values": [{"val": 0}]},
      "mark": {"type": "point", "shape": "M-1,-0.05L-1,0L0,0.45L1,0L1,-0.05Z", "size": 784, "filled": true, "fill": "#ffffff", "stroke": "#aaaaaa", "strokeWidth": 1, "opacity": 1},
      "encoding": {
        "x": {"datum": 0.5, "type": "quantitative"},
        "y": {"field": "val", "type": "quantitative", "axis": null}
      }
    }
  ],
  "resolve": {"axis": {"y": "independent"}}
}
]
}
